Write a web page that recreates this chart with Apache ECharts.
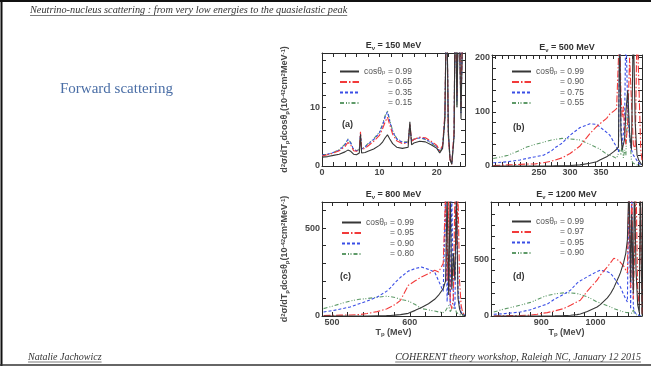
<!DOCTYPE html>
<html><head><meta charset="utf-8">
<script src="https://cdn.jsdelivr.net/npm/echarts@6/dist/echarts.min.js"></script>
<style>html,body{margin:0;padding:0;background:#fff}#c{width:651px;height:367px}</style>
</head><body><div id="c"></div>
<script>
// ---------------- data ----------------
const panelKeys = ['a', 'b', 'c', 'd'];
const energies = ['150', '500', '800', '1200'];
const cosA = ['0.99', '0.65', '0.35', '0.15'];
const cosB = ['0.99', '0.90', '0.75', '0.55'];
const cosC = ['0.99', '0.95', '0.90', '0.80'];
const cosD = ['0.99', '0.97', '0.95', '0.90'];

// panel (a) Ev = 150 MeV
const aX = [0,1,2,3,4,4.5,5,5.5,6,6.5,6.7,6.9,7.5,8,9,10,10.5,11,11.4,11.8,12.3,13,14,15,15.3,15.6,16,17,18,19,20,20.5,21,21.4,21.7,22,22.3,22.6,23,23.2,23.5,23.8,24.2,24.6,24.9];
const aBlack = [1.5,1.6,1.8,2.0,2.4,2.7,2.5,2.0,1.9,2.2,5.4,2.2,2.3,2.5,2.9,3.5,4.0,4.8,5.3,4.6,3.8,3.2,3.0,3.2,7.5,3.6,3.9,4.2,4.1,3.6,3.0,2.2,3.0,8,30,6,1.2,0.3,5,30,10,30,8,30,20];
const aRed   = [1.7,1.9,2.2,2.6,3.3,4.0,3.6,2.6,2.5,2.7,5.8,2.8,3.0,3.4,4.2,5.2,6.2,7.5,8.3,7.0,5.4,4.3,3.8,3.9,7.2,4.2,4.5,4.9,4.8,4.2,3.5,2.6,3.5,9,30,5,1.0,0.3,6,30,12,30,10,30,30];
const aBlue  = [1.8,2.0,2.3,2.7,3.6,4.5,3.9,2.8,2.6,2.8,5.5,2.9,3.2,3.7,4.5,5.6,6.8,8.3,9.2,7.6,5.8,4.6,4.0,4.0,7.0,4.2,4.5,4.8,4.6,4.0,3.3,2.5,3.3,8.5,30,5.5,1.1,0.4,5.5,30,11,30,9,30,25];
const aGreen = [1.8,2.0,2.3,2.8,3.7,4.6,4.0,2.9,2.6,2.8,5.0,2.9,3.3,3.8,4.6,5.8,7.0,8.6,9.4,7.8,6.0,4.7,4.1,4.1,6.8,4.3,4.6,4.8,4.5,3.9,3.2,2.4,3.2,8,30,5,1.0,0.4,5,30,10,30,9,30,22];

// panel (b) Ev = 500 MeV
const bX = [176,190,200,219,230,244,257,270,276,287,300,316,332,343,348,359,364,370,375,378,380,382,384,386,388,390,393,396,399,402,405,408,411,414,416];
const bBlack = [0,0,0,0,0,0,0,0,0.3,0.5,1,2,5,8,11,17,21,26,31,35,260,60,30,40,50,100,140,60,30,260,80,20,10,5,2];
const bRed   = [1,1.5,2,3,3.5,4,6,9,11,15,23,37,60,73,78,88,96,101,106,108,260,130,90,110,60,40,80,200,120,40,30,260,150,30,10];
const bBlue  = [6,7,8,11,14,17,20,28,34,42,57,71,78,77,72,62,57,45,35,26,260,80,40,60,90,260,100,50,30,20,15,10,5,2,1];
const bGreen = [14,17,20,29,35,40,44,48,49,51,50,48,40,34,31,22,20,17,14,12,30,20,40,15,30,20,120,60,10,5,3,2,1,1,0];

// panel (c) Ev = 800 MeV
const cX = [489,500,511,523,535,545,558,570,575,581,588,598,607,615,624,632,637,643,646,648,650,652,654,656,658,660,662,664,666,668,671];
const cBlack = [0,0,0,0,0,0,1,2,3,5,8,15,32,48,70,95,118,156,200,700,120,700,150,356,200,700,100,40,15,5,0];
const cRed   = [3,4,5,6,8,14,25,40,51,65,89,174,200,222,240,260,250,300,700,200,700,80,40,100,700,400,700,200,60,20,5];
const cBlue  = [23,30,40,51,70,85,108,140,160,190,220,255,270,278,265,250,200,140,700,80,350,60,700,90,40,700,150,60,20,10,3];
const cGreen = [42,55,70,85,95,99,107,112,110,105,95,85,65,42,35,28,23,20,30,45,60,25,40,30,50,20,10,8,5,3,1];

// panel (d) Ev = 1200 MeV
const dX = [812,830,861,880,892,904,911,925,941,954,966,972,985,1003,1009,1022,1028,1034,1043,1046,1052,1056,1059,1062,1065,1067,1070,1072,1075,1078,1081,1083,1086];
const dBlack = [0,0,0,0,0,0,0,1,3,6,12,18,40,80,100,160,198,250,346,380,470,553,671,1200,300,900,200,1200,400,100,30,1200,10];
const dRed   = [0,2,5,8,15,25,30,45,65,95,125,139,220,316,360,434,470,509,490,479,440,405,380,1200,250,1200,150,500,1200,200,100,1200,20];
const dBlue  = [15,20,35,55,75,95,105,150,190,228,290,310,346,392,405,390,376,340,275,257,190,150,124,1200,60,1200,80,40,20,10,5,3,1];
const dGreen = [35,60,95,120,145,169,180,195,204,204,198,190,170,124,115,90,80,65,50,45,36,32,30,28,40,25,60,20,10,5,3,2,1];

// axis ranges, ticks and tick labels
const xRanges = [[0, 24.9], [174, 416], [487, 671], [807, 1086]];
const yRanges = [[0, 19.2], [0, 205], [0, 648], [0, 1005]];
const xTickA = [0,2,4,6,8,10,12,14,16,18,20,22,24];
const xTickB = [180,190,200,210,220,230,240,250,260,270,280,290,300,310,320,330,340,350,360,370,380,390,400,410];
const xTickC = [500,520,540,560,580,600,620,640,660];
const xTickD = [820,840,860,880,900,920,940,960,980,1000,1020,1040,1060,1080];
const xLabA = [0, 10, 20];
const xLabB = [250, 300, 350];
const xLabC = [500, 600];
const xLabD = [900, 1000];
const yTickA = [2,4,6,8,10,12,14,16,18];
const yTickB = [20,40,60,80,100,120,140,160,180,200];
const yTickC = [100,200,300,400,500,600];
const yTickD = [100,200,300,400,500,600,700,800,900,1000];
const yLabA = [0, 10];
const yLabB = [0, 100, 200];
const yLabC = [0, 500];
const yLabD = [0, 500];

// ---------------- layout / style ----------------
const grids = [
  {left: 322, top: 53, width: 143, height: 113},
  {left: 492, top: 55, width: 150, height: 111},
  {left: 322, top: 202, width: 143, height: 114},
  {left: 491, top: 202, width: 151, height: 114}
];
const seriesColors = ['#363636', '#f23a3a', '#3a4ee6', '#5e9a68'];
const seriesDash = ['solid', [7, 2, 1.5, 2], [3, 2], [4, 2, 1, 1.5, 1, 2]];
const xs = [aX, bX, cX, dX];
const ys = [[aBlack, aRed, aBlue, aGreen], [bBlack, bRed, bBlue, bGreen], [cBlack, cRed, cBlue, cGreen], [dBlack, dRed, dBlue, dGreen]];
const cosLists = [cosA, cosB, cosC, cosD];
const xTicks = [xTickA, xTickB, xTickC, xTickD];
const xLabs = [xLabA, xLabB, xLabC, xLabD];
const yTicks = [yTickA, yTickB, yTickC, yTickD];
const yLabs = [yLabA, yLabB, yLabC, yLabD];

const axisFont = {fontFamily: 'Liberation Sans, Arial, sans-serif', fontSize: 9, fontWeight: 'bold', color: '#484848', formatter: v => String(v)};
const axisLine = {show: true, onZero: false, lineStyle: {color: '#2a2a2a', width: 1}};

const xAxes = [], yAxes = [], series = [], legends = [];
panelKeys.forEach((k, i) => {
  const tickStyle = {inside: true, length: 4, lineStyle: {color: '#2a2a2a', width: 1}};
  xAxes.push({
    gridIndex: i, type: 'value', position: 'bottom', min: xRanges[i][0], max: xRanges[i][1],
    axisLine, splitLine: {show: false},
    axisTick: Object.assign({customValues: xTicks[i]}, tickStyle),
    axisLabel: Object.assign({customValues: xLabs[i], margin: 2}, axisFont),
    name: (i >= 2) ? '{t|T}{s|p}{t| (MeV)}' : '', nameLocation: 'middle', nameGap: 11,
    nameTextStyle: {rich: {t: {fontSize: 9, fontWeight: 'bold', color: '#484848', fontFamily: 'Liberation Sans'}, s: {fontSize: 6, fontWeight: 'bold', color: '#484848', verticalAlign: 'bottom', padding: [4, 0, 0, 0], fontFamily: 'Liberation Sans'}}}
  });
  xAxes.push({
    gridIndex: i, type: 'value', position: 'top', min: xRanges[i][0], max: xRanges[i][1],
    axisLine, splitLine: {show: false},
    axisTick: Object.assign({customValues: xTicks[i]}, tickStyle),
    axisLabel: {show: false}
  });
  yAxes.push({
    gridIndex: i, type: 'value', position: 'left', min: yRanges[i][0], max: yRanges[i][1],
    axisLine, splitLine: {show: false},
    axisTick: Object.assign({customValues: yTicks[i]}, tickStyle),
    axisLabel: Object.assign({customValues: yLabs[i], margin: 2}, axisFont),
    name: (i % 2 === 0) ? 'd{sp|2}σ/dT{sb|p}dcosθ{sb|p}(10{sp|-42}cm{sp|2}MeV{sp|-1})' : '',
    nameLocation: 'middle', nameRotate: 90, nameGap: 32,
    nameTextStyle: {fontSize: 9, fontWeight: 'bold', color: '#484848', fontFamily: 'Liberation Sans',
      rich: {sp: {fontSize: 6, fontWeight: 'bold', color: '#484848', verticalAlign: 'top', padding: [0, 0, 4, 0]},
             sb: {fontSize: 6, fontWeight: 'bold', color: '#484848', verticalAlign: 'bottom', padding: [4, 0, 0, 0]}}}
  });
  yAxes.push({
    gridIndex: i, type: 'value', position: 'right', min: yRanges[i][0], max: yRanges[i][1],
    axisLine, splitLine: {show: false},
    axisTick: Object.assign({customValues: yTicks[i]}, tickStyle),
    axisLabel: {show: false}
  });
  const names = [];
  ys[i].forEach((arr, s) => {
    const nm = k + s;
    names.push(nm);
    series.push({
      name: nm, type: 'line', xAxisIndex: 2 * i, yAxisIndex: 2 * i, symbol: 'none', clip: true,
      animation: false, z: 4 - s,
      lineStyle: {color: seriesColors[s], width: 1.1, type: seriesDash[s]},
      itemStyle: {color: seriesColors[s]},
      data: xs[i].map((x, j) => [x, arr[j]])
    });
  });
  const lg = [{left: 339, top: 67}, {left: 511, top: 67}, {left: 341, top: 218}, {left: 511, top: 217}][i];
  legends.push({
    data: names, orient: 'vertical', left: lg.left, top: lg.top, itemWidth: 19, itemHeight: 6, itemGap: 1.5,
    selectedMode: false, padding: 0,
    itemStyle: {opacity: 0, color: 'rgba(0,0,0,0)', borderWidth: 0},
    textStyle: {fontSize: 8.5, color: '#555', fontFamily: 'Liberation Sans', lineHeight: 8,
      rich: {c: {fontSize: 8.5, color: '#555', width: 18}, p: {fontSize: 6, color: '#555', width: 6, verticalAlign: 'bottom', padding: [3, 0, 0, 0]},
             e: {fontSize: 8.5, color: '#555'}, pad: {fontSize: 8.5, width: 24}}},
    formatter: (name) => {
      const s = +name[1];
      const v = cosLists[i][s];
      return s === 0 ? '{c|cosθ}{p|p}{e|= ' + v + '}' : '{pad| }{e|= ' + v + '}';
    }
  });
});

// ---------------- text helpers ----------------
function tw(text, font) {
  const ctx = document.createElement('canvas').getContext('2d');
  ctx.font = font;
  return ctx.measureText(text).width;
}
const headerText = 'Neutrino-nucleus scattering : from very low energies to the quasielastic peak';
const footL = 'Natalie Jachowicz';
const footR = 'COHERENT theory workshop, Raleigh NC, January 12 2015';
const headFont = 'italic 10.3px "Liberation Serif"';
const footFont = 'italic 10px "Liberation Serif"';
const hW = tw(headerText, headFont), fLW = tw(footL, footFont), fRW = tw(footR, footFont);

const graphics = [
  {type: 'line', shape: {x1: 0, y1: 1, x2: 651, y2: 1}, style: {stroke: '#111', lineWidth: 2}},
  {type: 'line', shape: {x1: 1.5, y1: 0, x2: 1.5, y2: 366}, style: {stroke: '#111', lineWidth: 2}},
  {type: 'line', shape: {x1: 0, y1: 365, x2: 651, y2: 365}, style: {stroke: '#333', lineWidth: 1.5}},
  {type: 'text', x: 30, y: 10, style: {text: headerText, font: headFont, fill: '#333', textVerticalAlign: 'middle'}},
  {type: 'line', shape: {x1: 30, y1: 15.5, x2: 30 + hW, y2: 15.5}, style: {stroke: '#444', lineWidth: 0.7}},
  {type: 'text', x: 60, y: 89, style: {text: 'Forward scattering', font: '15px "Liberation Serif"', fill: '#4a6ea6', textVerticalAlign: 'middle'}},
  {type: 'text', x: 28, y: 357, style: {text: footL, font: footFont, fill: '#333', textVerticalAlign: 'middle'}},
  {type: 'line', shape: {x1: 28, y1: 362, x2: 28 + fLW, y2: 362}, style: {stroke: '#444', lineWidth: 0.7}},
  {type: 'text', x: 641 - fRW, y: 357, style: {text: footR, font: footFont, fill: '#333', textVerticalAlign: 'middle'}},
  {type: 'line', shape: {x1: 641 - fRW, y1: 362, x2: 641, y2: 362}, style: {stroke: '#444', lineWidth: 0.7}}
];
const titleRich = {b: {fontSize: 9, fontWeight: 'bold', fill: '#333', fontFamily: 'Liberation Sans'},
                   s: {fontSize: 6, fontWeight: 'bold', fill: '#333', fontFamily: 'Liberation Sans', verticalAlign: 'bottom', padding: [4, 0, 0, 0]}};
grids.forEach((g, i) => {
  graphics.push({type: 'text', x: g.left + g.width / 2, y: g.top - 7,
    style: {text: '{b|E}{s|ν}{b| = ' + energies[i] + ' MeV}', rich: titleRich, textAlign: 'center', textVerticalAlign: 'middle'}});
  const lab = [{x: 342, y: 125}, {x: 513, y: 128}, {x: 340, y: 277}, {x: 513, y: 277}][i];
  graphics.push({type: 'text', x: lab.x, y: lab.y,
    style: {text: '(' + panelKeys[i] + ')', font: 'bold 9px "Liberation Sans"', fill: '#333', textVerticalAlign: 'middle'}});
});

const chart = echarts.init(document.getElementById('c'), null, {renderer: 'canvas'});
chart.setOption({
  animation: false,
  backgroundColor: '#fff',
  grid: grids.map(g => Object.assign({containLabel: false}, g)),
  xAxis: xAxes,
  yAxis: yAxes,
  legend: legends,
  series: series,
  graphic: graphics
});
</script>
</body></html>
